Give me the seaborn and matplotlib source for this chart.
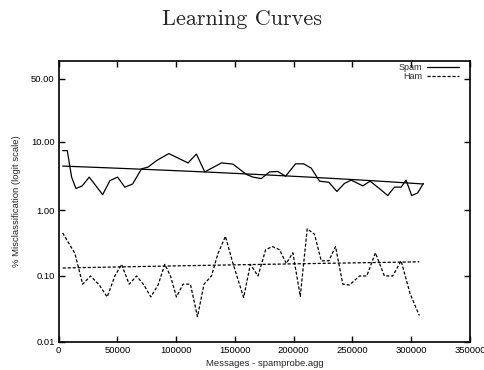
import numpy as np
import pandas as pd
import matplotlib
matplotlib.use("Agg")
import matplotlib.pyplot as plt
import seaborn as sns
from matplotlib.ticker import FixedLocator, FuncFormatter, NullLocator

# messages seen (x) and % misclassified
spam_msgs = [3400, 7300, 11000, 14700, 20000, 26000, 37400, 43600, 50100, 56300,
             62900, 70500, 76100, 83300, 93700, 110100, 117200, 124300, 138500, 148300,
             159700, 165300, 172400, 179500, 186500, 193100, 201600, 208400, 214900, 222000,
             229900, 236700, 243200, 248900, 258800, 265000, 272900, 280000, 285700, 291400,
             295600, 300400, 305500, 310300]
spam_pct = [7.5, 7.5, 3.1, 2.1, 2.3, 3.1, 1.7, 2.75, 3.1, 2.2,
            2.45, 4.1, 4.35, 5.4, 6.8, 5.0, 6.7, 3.7, 5.0, 4.8,
            3.4, 3.1, 2.95, 3.7, 3.75, 3.2, 4.85, 4.85, 4.2, 2.7,
            2.6, 1.9, 2.5, 2.8, 2.3, 2.7, 2.1, 1.65, 2.2, 2.2,
            2.8, 1.65, 1.8, 2.5]

ham_msgs = [3400, 13800, 20400, 27200, 34500, 41300, 47800, 53500, 60000, 66300,
            72500, 78400, 84600, 90300, 95100, 100200, 105800, 112100, 118100, 123700,
            130000, 135600, 141900, 148300, 157400, 163100, 169600, 176100, 181800, 188000,
            193700, 199300, 205600, 211500, 217700, 223400, 229900, 235600, 241800, 247500,
            256000, 262200, 269500, 277200, 284300, 291400, 299000, 306900]
ham_pct = [0.45, 0.22, 0.075, 0.10, 0.073, 0.048, 0.10, 0.15, 0.075, 0.10,
           0.073, 0.048, 0.073, 0.15, 0.10, 0.048, 0.075, 0.075, 0.024, 0.075,
           0.10, 0.22, 0.40, 0.155, 0.047, 0.15, 0.10, 0.25, 0.28, 0.25,
           0.155, 0.225, 0.049, 0.52, 0.43, 0.17, 0.17, 0.28, 0.075, 0.073,
           0.10, 0.10, 0.225, 0.10, 0.10, 0.17, 0.054, 0.025]

y_ticks = [0.01, 0.10, 1.00, 10.00, 50.00]
x_ticks = [0, 50000, 100000, 150000, 200000, 250000, 300000, 350000]

def trend(x, pct):
    # least squares line through the raw percentages
    x = np.asarray(x, float)
    k, b = np.polyfit(x, np.asarray(pct), 1)
    xs = np.linspace(x.min(), x.max(), 100)
    return xs, (k * xs + b) / 100

sns.set_style("ticks")
plt.rcParams["font.family"] = ["Liberation Sans", "DejaVu Sans"]

fig = plt.figure(figsize=(4.85, 3.7), dpi=100)
ax = fig.add_axes([0.121, 0.0765, 0.848, 0.758])

spam = pd.DataFrame({"msgs": spam_msgs, "frac": np.array(spam_pct) / 100})
ham = pd.DataFrame({"msgs": ham_msgs, "frac": np.array(ham_pct) / 100})

sns.lineplot(data=spam, x="msgs", y="frac", ax=ax, color="black", lw=0.9, label="Spam")
sns.lineplot(data=ham, x="msgs", y="frac", ax=ax, color="black", lw=0.9, label="Ham")
ax.lines[-1].set_dashes([2.5, 1.5])

sx, sy = trend(spam_msgs, spam_pct)
ax.plot(sx, sy, color="black", lw=0.9)
hx, hy = trend(ham_msgs, ham_pct)
ax.plot(hx, hy, color="black", lw=0.9, dashes=[2.5, 1.5])

ax.set_yscale("logit")
ax.set_ylim(0.0001, 0.65)
ax.set_xlim(0, 350000)
ax.yaxis.set_major_locator(FixedLocator([v / 100 for v in y_ticks]))
ax.yaxis.set_major_formatter(FuncFormatter(lambda v, _: f"{v * 100:.2f}"))
ax.yaxis.set_minor_locator(NullLocator())
ax.xaxis.set_minor_locator(NullLocator())
ax.set_xticks(x_ticks)
ax.set_xticklabels([str(t) for t in x_ticks])

ax.tick_params(direction="in", length=4, width=1, top=True, right=True,
               labelsize=6.8, pad=3, colors="black")
for s in ax.spines.values():
    s.set_linewidth(1.2)
    s.set_color("black")

ax.set_xlabel("Messages - spamprobe.agg", fontsize=6.8, labelpad=3)
ax.set_ylabel("% Misclassification (logit scale)", fontsize=6.8, labelpad=7)
fig.suptitle("Learning Curves", y=0.975, fontsize=16, family="cmr10")

leg = ax.legend(loc="upper right", bbox_to_anchor=(0.975, 0.998), frameon=False,
                fontsize=6.5, markerfirst=False, handlelength=3.5, handletextpad=0.6,
                borderaxespad=0, borderpad=0.1, labelspacing=0.05)

fig.savefig("out.png", dpi=100)
